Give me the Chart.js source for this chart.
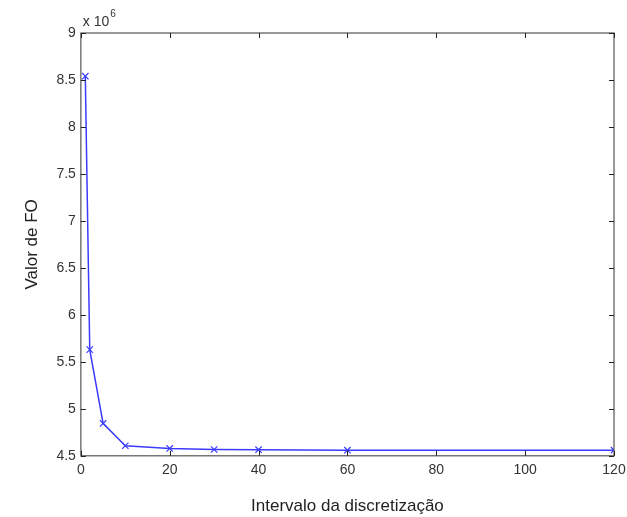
<!DOCTYPE html>
<html><head><meta charset="utf-8">
<script src="https://cdn.jsdelivr.net/npm/chart.js@4"></script>
<style>html,body{margin:0;padding:0;background:#fff}#wrap{width:627px;height:517px;position:relative}</style>
</head><body><div id="wrap"><canvas id="c"></canvas></div>
<script>
const intervals = [1, 2, 5, 10, 20, 30, 40, 60, 120];
const foValues = [8.54, 5.63, 4.845, 4.607, 4.578, 4.567, 4.565, 4.56, 4.56]; // x 10^6
const xTicks = [0, 20, 40, 60, 80, 100, 120];
const yTicks = [4.5, 5, 5.5, 6, 6.5, 7, 7.5, 8, 8.5, 9];
const xTitle = 'Intervalo da discretização';
const yTitle = 'Valor de FO';
const exponentLabel = '6';

const boxPlugin = {
  id: 'box',
  afterDraw(chart) {
    const {ctx, chartArea: a, scales: {x, y}} = chart;
    ctx.save();
    ctx.strokeStyle = '#555';
    ctx.lineWidth = 1.2;
    ctx.strokeRect(a.left, a.top, a.right - a.left, a.bottom - a.top);
    ctx.lineWidth = 1;
    ctx.strokeStyle = '#222';
    const t = 5;
    xTicks.forEach(v => {
      const px = Math.round(x.getPixelForValue(v)) + 0.5;
      ctx.beginPath(); ctx.moveTo(px, a.bottom); ctx.lineTo(px, a.bottom - t);
      ctx.moveTo(px, a.top); ctx.lineTo(px, a.top + t); ctx.stroke();
    });
    yTicks.forEach(v => {
      const py = Math.round(y.getPixelForValue(v)) + 0.5;
      ctx.beginPath(); ctx.moveTo(a.left, py); ctx.lineTo(a.left + t, py);
      ctx.moveTo(a.right, py); ctx.lineTo(a.right - t, py); ctx.stroke();
    });
    // exponent label
    ctx.fillStyle = '#333';
    ctx.font = '14px "Liberation Sans", Arial, sans-serif';
    ctx.textBaseline = 'alphabetic';
    ctx.fillText('x 10', a.left + 2, a.top - 7);
    const w = ctx.measureText('x 10').width;
    ctx.font = '10px "Liberation Sans", Arial, sans-serif';
    ctx.fillText(exponentLabel, a.left + 2 + w + 1, a.top - 16);
    ctx.restore();
  }
};

new Chart(document.getElementById('c'), {
  type: 'scatter',
  data: {
    datasets: [{
      data: intervals.map((v, i) => ({x: v, y: foValues[i]})),
      showLine: true,
      borderColor: '#3b3bff',
      backgroundColor: '#3b3bff',
      borderWidth: 1.5,
      pointStyle: 'crossRot',
      pointRadius: 4.5,
      pointBorderWidth: 1.2,
      tension: 0
    }]
  },
  options: {
    responsive: true,
    maintainAspectRatio: false,
    animation: false,
    layout: {padding: {left: 22, right: 0, top: 33, bottom: 0}},
    plugins: {legend: {display: false}, tooltip: {enabled: false}},
    scales: {
      x: {
        type: 'linear', min: 0, max: 120,
        afterBuildTicks: s => { s.ticks = xTicks.map(v => ({value: v})); },
        afterFit: s => { s.paddingRight = 13; },
        grid: {display: false, drawTicks: false},
        border: {display: false},
        ticks: {color: '#333', font: {size: 14, family: '"Liberation Sans", Arial, sans-serif'}, padding: 6, maxRotation: 0},
        title: {display: true, text: xTitle, color: '#222', font: {size: 17, family: '"Liberation Sans", Arial, sans-serif'}, padding: {top: 12, bottom: 0}}
      },
      y: {
        type: 'linear', min: 4.5, max: 9,
        afterBuildTicks: s => { s.ticks = yTicks.map(v => ({value: v})); },
        grid: {display: false, drawTicks: false},
        border: {display: false},
        ticks: {color: '#333', font: {size: 14, family: '"Liberation Sans", Arial, sans-serif'}, padding: 5, callback: v => String(v)},
        title: {display: true, text: yTitle, color: '#222', font: {size: 17, family: '"Liberation Sans", Arial, sans-serif'}, padding: {top: 0, bottom: 9}}
      }
    }
  },
  plugins: [boxPlugin]
});
</script></body></html>
